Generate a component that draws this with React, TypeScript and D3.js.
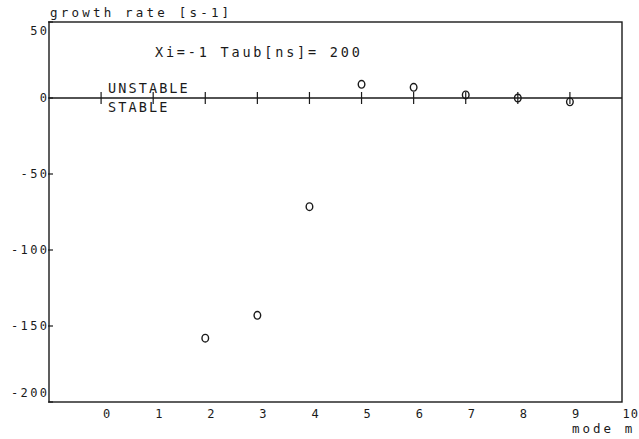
import React from "react";
import * as d3 from "d3";

// mode number and growth rate
const modes = [2, 3, 4, 5, 6, 7, 8, 9];
const growthRates = [-158, -143, -71.5, 9, 7, 2, 0, -2.5];

const xTicks = [0, 1, 2, 3, 4, 5, 6, 7, 8, 9, 10];
const yTicks = [50, 0, -50, -100, -150, -200];
const zeroLineTicks = [0, 1, 2, 3, 4, 5, 6, 7, 8, 9];

const width = 639;
const height = 439;
const ink = "#1a1a1a";
const font = "'DejaVu Sans Mono', 'Liberation Mono', monospace";

const App = () => {
  const x = d3.scaleLinear().domain([-1, 10]).range([49, 622]);
  const y = d3.scaleLinear().domain([-200, 50]).range([402, 22]);

  const points = modes.map((m, i) => ({ m, v: growthRates[i] }));

  const yLabelShift = (t: number) => (t === 50 ? 9 : t === -200 ? -9 : 0);

  return (
    <svg
      width={width}
      height={height}
      style={{ position: "absolute", left: 0, top: 0, background: "#fff" }}
      fontFamily={font}
      fill={ink}
    >
      {/* frame */}
      <rect
        x={x(-1)}
        y={y(50)}
        width={x(10) - x(-1)}
        height={y(-200) - y(50)}
        fill="none"
        stroke={ink}
        strokeWidth={1.4}
      />

      {/* zero line with its tick marks */}
      <line x1={x(-1)} x2={x(10)} y1={y(0)} y2={y(0)} stroke={ink} strokeWidth={1.3} />
      {zeroLineTicks.map((t) => (
        <line key={t} x1={x(t)} x2={x(t)} y1={y(0) - 6} y2={y(0) + 6} stroke={ink} strokeWidth={1.2} />
      ))}

      {/* y ticks and labels */}
      {yTicks.map((t) => (
        <g key={t}>
          <line x1={x(-1) - 1} x2={x(-1) + 4} y1={y(t)} y2={y(t)} stroke={ink} strokeWidth={1.2} />
          <text
            x={x(-1) - 2 + 2.4}
            y={y(t) + yLabelShift(t)}
            dy="0.36em"
            textAnchor="end"
            fontSize={12}
            letterSpacing={2.4}
          >
            {t === 0 ? "0" : t < 0 ? "-" + Math.abs(t) : String(t)}
          </text>
        </g>
      ))}

      {/* x tick labels */}
      {xTicks.map((t) => (
        <text
          key={t}
          x={t === 10 ? x(t) + 0.5 : x(t) + 2}
          y={418}
          fontSize={12}
          letterSpacing={t === 10 ? 1 : 2.4}
        >
          {t}
        </text>
      ))}

      {/* data points */}
      {points.map((d) => (
        <ellipse
          key={d.m}
          cx={x(d.m)}
          cy={y(d.v)}
          rx={3.3}
          ry={3.8}
          fill="none"
          stroke={ink}
          strokeWidth={1.4}
        />
      ))}

      {/* texts */}
      <text x={50} y={17} fontSize={12.5} letterSpacing={3.2}>
        growth rate [s-1]
      </text>
      <text x={155} y={57} fontSize={13.5} letterSpacing={2.8}>
        Xi=-1 Taub[ns]= 200
      </text>
      <text x={108} y={93} fontSize={13.5} letterSpacing={2.1}>
        UNSTABLE
      </text>
      <text x={108} y={112} fontSize={13.5} letterSpacing={2.1}>
        STABLE
      </text>
      <text x={572} y={433} fontSize={12.5} letterSpacing={3}>
        mode m
      </text>
    </svg>
  );
};

export default App;
